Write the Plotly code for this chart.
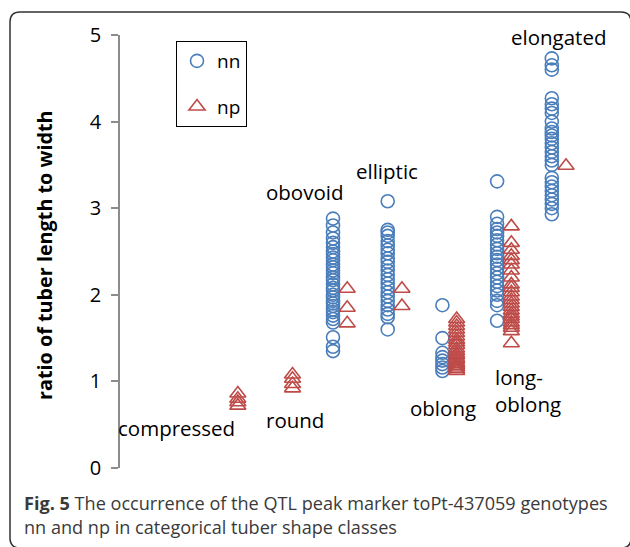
import plotly.graph_objects as go

# ---- data ----
categories = ["compressed", "round", "obovoid", "elliptic", "oblong", "long-oblong", "elongated"]
cat_labels = ["compressed", "round", "obovoid", "elliptic", "oblong", "long-<br>oblong", "elongated"]

nn_obovoid = [2.88, 2.80, 2.72, 2.65, 2.60, 2.55, 2.50, 2.47, 2.43, 2.40, 2.35, 2.32, 2.28, 2.25,
              2.20, 2.17, 2.12, 2.08, 2.05, 2.00, 1.97, 1.93, 1.90, 1.87, 1.83, 1.80, 1.76, 1.72,
              1.68, 1.51, 1.40, 1.35]
nn_elliptic = [3.08, 2.75, 2.72, 2.68, 2.62, 2.57, 2.52, 2.48, 2.42, 2.38, 2.33, 2.28, 2.23, 2.18,
               2.13, 2.08, 2.03, 1.98, 1.93, 1.88, 1.83, 1.78, 1.74, 1.60]
nn_oblong = [1.88, 1.50, 1.33, 1.28, 1.24, 1.20, 1.16, 1.12]
nn_longoblong = [3.31, 2.90, 2.82, 2.76, 2.72, 2.68, 2.63, 2.58, 2.53, 2.48, 2.44, 2.40, 2.35, 2.30,
                 2.25, 2.20, 2.15, 2.10, 2.05, 2.00, 1.93, 1.88, 1.70]
nn_elongated = [4.73, 4.65, 4.60, 4.27, 4.20, 4.15, 4.10, 4.00, 3.92, 3.88, 3.84, 3.80, 3.75, 3.70,
                3.65, 3.60, 3.55, 3.50, 3.35, 3.30, 3.25, 3.20, 3.15, 3.10, 3.05, 3.00, 2.93]

np_compressed = [0.72, 0.76, 0.80, 0.86]
np_round = [0.92, 0.97, 1.03, 1.08]
np_obovoid = [2.07, 1.85, 1.67]
np_elliptic = [2.07, 1.87]
np_oblong = [1.72, 1.68, 1.64, 1.60, 1.56, 1.52, 1.48, 1.45, 1.42, 1.38, 1.35, 1.32, 1.30, 1.27,
             1.25, 1.22, 1.20, 1.18, 1.16, 1.14, 1.12]
np_longoblong = [2.79, 2.60, 2.52, 2.45, 2.40, 2.35, 2.28, 2.20, 2.12, 2.08, 2.03, 1.98, 1.94, 1.90,
                 1.86, 1.82, 1.78, 1.75, 1.72, 1.68, 1.65, 1.62, 1.58, 1.44]
np_elongated = [3.49]

nn_series = {"obovoid": nn_obovoid, "elliptic": nn_elliptic, "oblong": nn_oblong,
             "long-oblong": nn_longoblong, "elongated": nn_elongated}
np_series = {"compressed": np_compressed, "round": np_round, "obovoid": np_obovoid,
             "elliptic": np_elliptic, "oblong": np_oblong, "long-oblong": np_longoblong,
             "elongated": np_elongated}

y_ticks = [0, 1, 2, 3, 4, 5]
axis_title = "ratio of tuber length to width"
caption = ("<b>Fig. 5</b> The occurrence of the QTL peak marker toPt-437059 genotypes<br>"
           "nn and np in categorical tuber shape classes")

# ---- build ----
NP_OFFSET = 0.26
pos = {c: i + 1 for i, c in enumerate(categories)}

nn_x, nn_y = [], []
for c, vals in nn_series.items():
    nn_x += [pos[c]] * len(vals)
    nn_y += vals
np_x, np_y = [], []
for c, vals in np_series.items():
    np_x += [pos[c] + NP_OFFSET] * len(vals)
    np_y += vals

BLUE = "#4a7ebb"
RED = "#be4b48"

fig = go.Figure()
fig.add_trace(go.Scatter(x=nn_x, y=nn_y, mode="markers", name="nn", legendgroup="a",
                         marker=dict(symbol="circle-open", size=13, color=BLUE,
                                     line=dict(width=1.6, color=BLUE))))
fig.add_trace(go.Scatter(x=np_x, y=np_y, mode="markers", name="np", legendgroup="b",
                         marker=dict(symbol="triangle-up-open", size=14, color=RED,
                                     line=dict(width=1.6, color=RED))))

W, H = 630, 547
L, R, T, B = 120, 30, 35, 79
pw, ph = W - L - R, H - T - B


def px(x):
    return (x - L) / pw


def py(y):
    return (H - B - y) / ph


FONT = "'Open Sans', sans-serif"

# category labels (pixel centres)
label_pos = [(176, 428), (295, 420), (305, 192), (387, 171), (443, 408), (528, 390), (558, 37)]
annotations = []
for txt, (lx, ly) in zip(cat_labels, label_pos):
    annotations.append(dict(x=px(lx), y=py(ly), xref="paper", yref="paper", text=txt,
                            showarrow=False, xanchor="center", yanchor="middle",
                            align="left", font=dict(family=FONT, size=20.5, color="#000")))

annotations.append(dict(x=px(45), y=py(255), xref="paper", yref="paper", text="<b>" + axis_title + "</b>",
                        textangle=-90, showarrow=False, xanchor="center", yanchor="middle",
                        font=dict(family=FONT, size=19.8, color="#000")))
annotations.append(dict(x=px(22), y=py(489), xref="paper", yref="paper", text=caption,
                        showarrow=False, xanchor="left", yanchor="top", align="left",
                        font=dict(family=FONT, size=18.1, color="#3a3a3a")))

# rounded frame (right and bottom edges fall just outside the canvas)
x0, x1, y0, y1, r = 10, 631, 12, 548, 10
path = (f"M {px(x0)},{py(y1 - r)} L {px(x0)},{py(y0 + r)} Q {px(x0)},{py(y0)} {px(x0 + r)},{py(y0)} "
        f"L {px(x1 - r)},{py(y0)} Q {px(x1)},{py(y0)} {px(x1)},{py(y0 + r)} "
        f"L {px(x1)},{py(y1 - r)} Q {px(x1)},{py(y1)} {px(x1 - r)},{py(y1)} "
        f"L {px(x0 + r)},{py(y1)} Q {px(x0)},{py(y1)} {px(x0)},{py(y1 - r)} Z")
shapes = [dict(type="path", path=path, xref="paper", yref="paper",
               line=dict(color="#333333", width=1.5), fillcolor="rgba(0,0,0,0)", layer="below")]

fig.update_layout(
    width=W, height=H,
    margin=dict(l=L, r=R, t=T, b=B, pad=0),
    paper_bgcolor="white", plot_bgcolor="white",
    showlegend=True,
    legend=dict(x=px(176), y=py(41), xanchor="left", yanchor="top",
                bordercolor="#000", borderwidth=1, bgcolor="white",
                font=dict(family=FONT, size=19, color="#000"),
                tracegroupgap=18, traceorder="grouped", itemwidth=30),
    xaxis=dict(visible=False, range=[-0.894, 7.881], fixedrange=True),
    yaxis=dict(range=[0, 5], tickvals=y_ticks, showgrid=False, zeroline=False,
               showline=True, linecolor="#8c8c8c", linewidth=1.5,
               ticks="outside", ticklen=7, tickcolor="#8c8c8c", tickwidth=1.5,
               tickfont=dict(family=FONT, size=20, color="#000"), ticklabelstandoff=6),
    annotations=annotations,
    shapes=shapes,
)

fig.write_html("out.html", config={"displayModeBar": False},
               post_script="document.body.style.margin='0';")
